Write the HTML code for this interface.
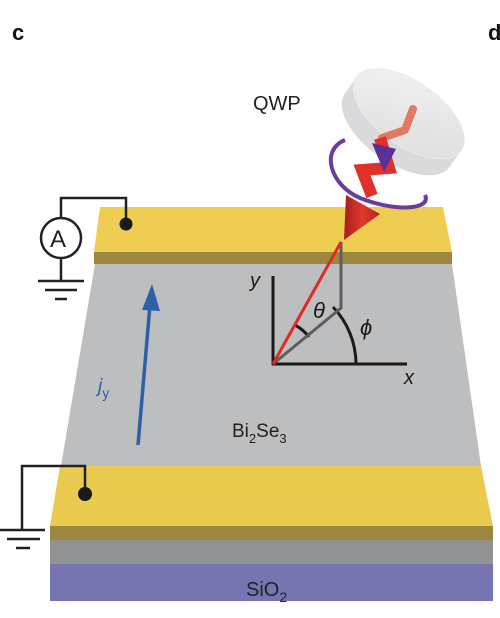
<!DOCTYPE html>
<html><head><meta charset="utf-8"><style>
html,body{margin:0;padding:0;background:#fff;}
svg{display:block;font-family:"Liberation Sans",sans-serif;}
</style></head><body>
<svg width="500" height="618" viewBox="0 0 500 618">
<defs>
<linearGradient id="disc" x1="0" y1="0" x2="1" y2="1"><stop offset="0" stop-color="#f2f2f3"/><stop offset="1" stop-color="#d9d9db"/></linearGradient>
<linearGradient id="cone" x1="0" y1="0" x2="1" y2="0"><stop offset="0" stop-color="#a81d1a"/><stop offset="0.5" stop-color="#e0382e"/><stop offset="1" stop-color="#b52520"/></linearGradient>
</defs>
<text x="12" y="40" font-size="22" font-weight="bold" fill="#111">c</text>
<text x="488" y="40" font-size="22" font-weight="bold" fill="#111">d</text>

<rect x="50" y="564" width="443" height="37" fill="#7775b1"/>
<rect x="50" y="540" width="443" height="24" fill="#919294"/>
<polygon points="95,264 452,264 481,466 61,466" fill="#bdbec0"/>
<polygon points="60,466 481,466 493,526 50,526" fill="#ebcb4f"/>
<rect x="50" y="526" width="443" height="14" fill="#9d8640"/>
<polygon points="100,207 443,207 452,252 94,252" fill="#efcc52"/>
<rect x="94" y="252" width="358" height="12" fill="#9d8640"/>

<text x="246" y="596" font-size="20" fill="#222">SiO<tspan font-size="14" dy="6">2</tspan></text>
<text x="232" y="437" font-size="19" fill="#222">Bi<tspan font-size="13" dy="6">2</tspan><tspan dy="-6">Se</tspan><tspan font-size="13" dy="6">3</tspan></text>

<g stroke="#222" stroke-width="2.5" fill="none">
<polyline points="61,218 61,198 126,198 126,224"/>
<circle cx="61" cy="238" r="20" fill="#fff"/>
<line x1="61" y1="258" x2="61" y2="281"/>
<line x1="38" y1="281" x2="84" y2="281"/>
<line x1="45" y1="290" x2="77" y2="290"/>
<line x1="55" y1="299" x2="67" y2="299"/>
</g>
<circle cx="126" cy="224" r="6.5" fill="#1a1a1a"/>
<text x="50" y="247" font-size="24" fill="#222">A</text>
<g stroke="#222" stroke-width="2.5" fill="none">
<polyline points="22,530 22,466 85,466 85,494"/>
<line x1="0" y1="530" x2="45" y2="530"/>
<line x1="7" y1="539" x2="40" y2="539"/>
<line x1="16" y1="548" x2="30" y2="548"/>
</g>
<circle cx="85" cy="494" r="7" fill="#1a1a1a"/>

<line x1="138" y1="445" x2="150" y2="305" stroke="#2f5fa8" stroke-width="3.5"/>
<polygon points="152,284 142,310 160,311" fill="#2f5fa8"/>
<text x="98" y="392" font-size="19" font-style="italic" fill="#2f5fa8">j<tspan font-size="14" font-style="normal" dy="6">y</tspan></text>

<g stroke="#1a1a1a" stroke-width="3" fill="none">
<line x1="273" y1="276" x2="273" y2="365"/>
<line x1="272" y1="364" x2="407" y2="364"/>
<path d="M356,364 A83,83 0 0 0 333,307"/>
<path d="M295,325 A45,45 0 0 1 309,337"/>
</g>
<polyline points="341,242 341,308 273,364" fill="none" stroke="#5e5e60" stroke-width="3"/>
<line x1="273" y1="364" x2="341" y2="242" stroke="#e02a22" stroke-width="3"/>
<text x="250" y="287" font-size="20" font-style="italic" fill="#1a1a1a">y</text>
<text x="404" y="384" font-size="20" font-style="italic" fill="#1a1a1a">x</text>
<text x="313" y="318" font-size="22" font-style="italic" fill="#1a1a1a">θ</text>
<text x="360" y="335" font-size="22" font-style="italic" fill="#1a1a1a">ϕ</text>

<text x="253" y="110" font-size="20" fill="#222">QWP</text>
<g transform="rotate(35 403 122)" opacity="0.9">
<ellipse cx="403" cy="132" rx="64" ry="32" fill="#d6d6d9"/>
<rect x="339" y="112" width="128" height="20" fill="#d6d6d9"/>
<ellipse cx="403" cy="112" rx="64" ry="32" fill="url(#disc)" stroke="#e8e8ea"/>
</g>
<path d="M345,140 C320,150 330,185 360,198 C395,212 432,210 425,195" fill="none" stroke="#6a3c9e" stroke-width="4"/>
<polyline points="413,109 405,130 382,138" fill="none" stroke="#e07a62" stroke-width="8" stroke-linecap="round" stroke-linejoin="round"/>
<polyline points="380,138 389,168 362,170 372,196" fill="none" stroke="#e0302a" stroke-width="12" stroke-linejoin="miter"/>
<polygon points="372,143 396,149 384,172" fill="#5b2f96"/>
<polygon points="344,240 346,195 380,214" fill="url(#cone)"/>
</svg>
</body></html>
